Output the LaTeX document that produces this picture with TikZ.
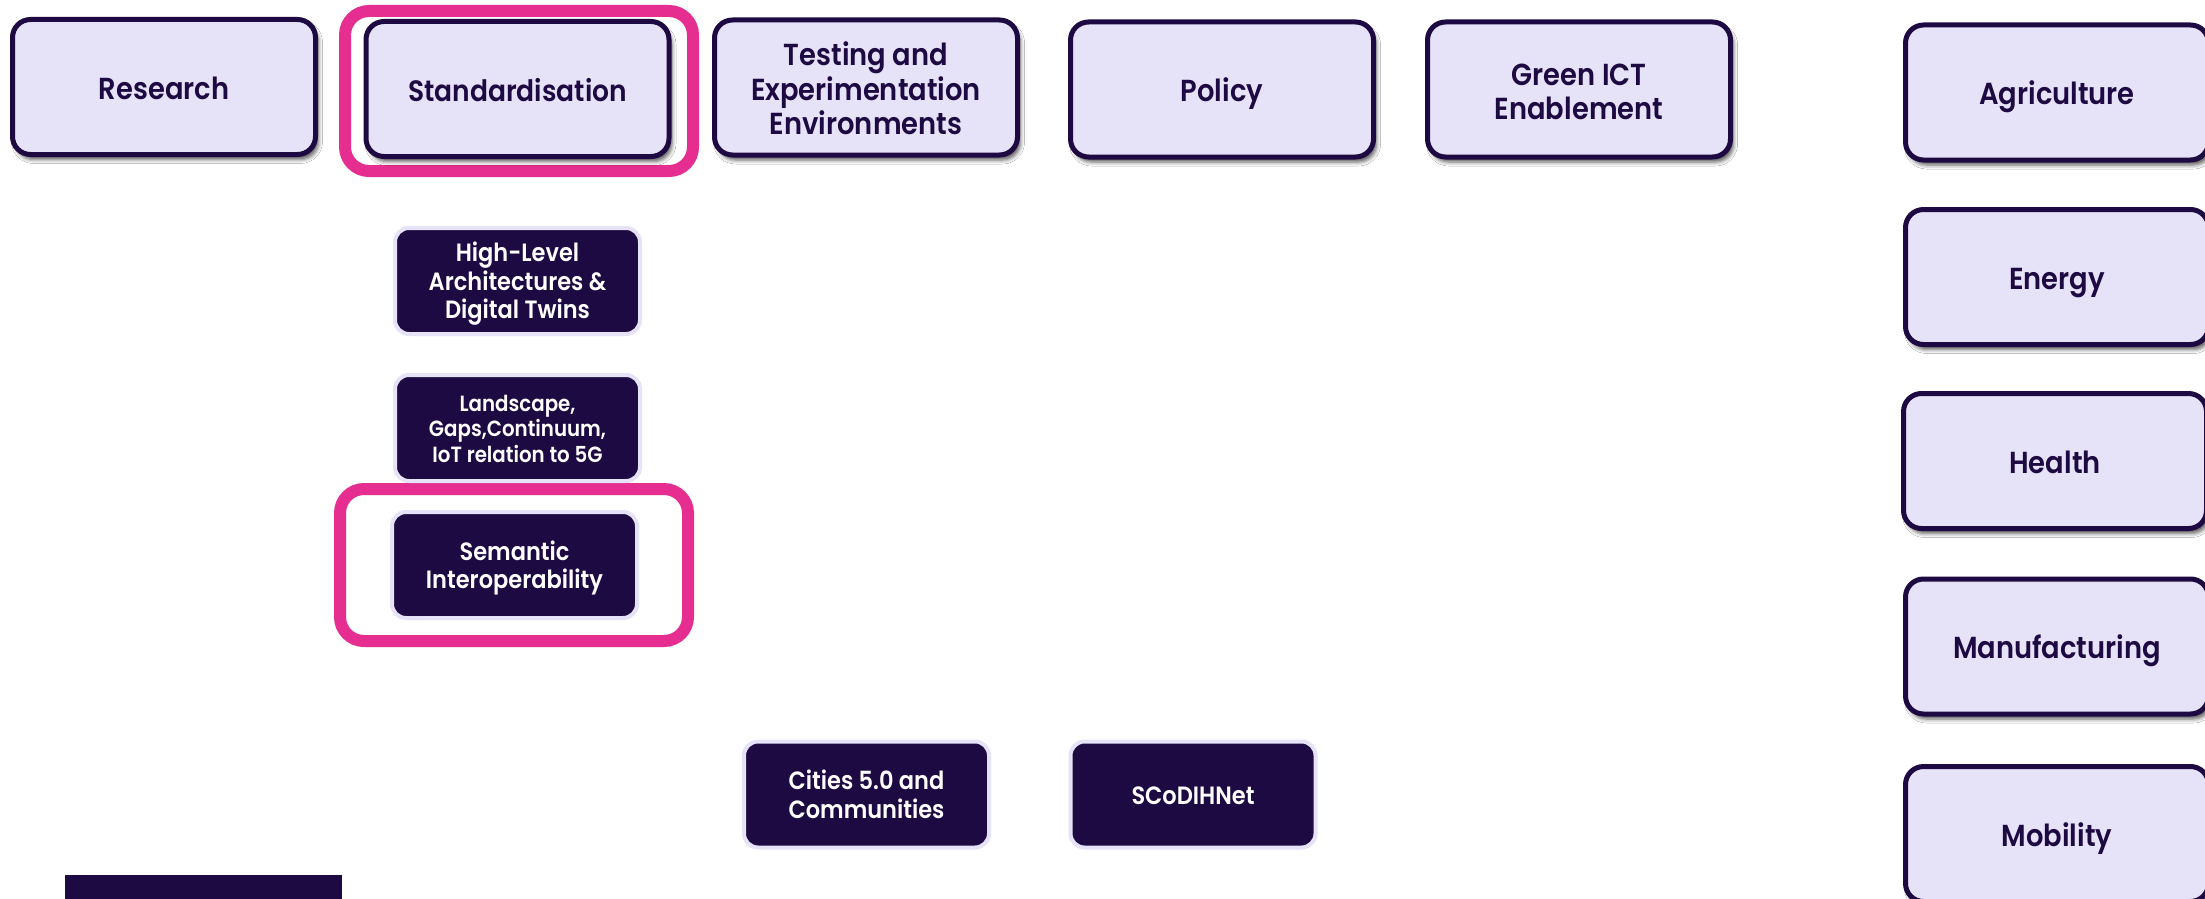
\documentclass[tikz,border=0pt]{standalone}
\usepackage{fontspec}
\setmainfont{Poppins}[BoldFont={Poppins SemiBold},FakeStretch=0.9]
\usetikzlibrary{shadows.blur}
\definecolor{ink}{HTML}{1E0A42}
\definecolor{lav}{HTML}{E6E2F7}
\definecolor{hot}{HTML}{E52E90}
\newcommand{\linestrut}{\rule[-0.3em]{0pt}{1.42em}}
\newcommand{\stacked}[1]{\raisebox{-0.4em}[0pt][0pt]{\begin{tabular}{@{}c@{}}#1\end{tabular}}}
\tikzset{
  topbox/.style={draw=ink,fill=lav,line width=5pt,rounded corners=18pt,minimum width=303pt,minimum height=135pt,align=center,text=ink,inner sep=0pt,
    font=\fontsize{30.4}{34.5}\selectfont\bfseries,
    blur shadow={shadow xshift=3pt,shadow yshift=-5pt,shadow blur radius=4pt,shadow opacity=65}},
  darkbox/.style={draw=lav,fill=ink,line width=4pt,rounded corners=14pt,minimum width=245pt,minimum height=106pt,align=center,text=white,inner sep=0pt,
    font=\fontsize{25}{28.5}\selectfont\bfseries},
  single/.style={execute at begin node=\linestrut,execute at end node=\linestrut},
  frame/.style={draw=hot,line width=12pt,rounded corners=24pt,minimum width=348pt,inner sep=0pt}
}
\begin{document}
\begin{tikzpicture}[x=1pt,y=-1pt]
\useasboundingbox (0,0) rectangle (2205,899);
\fill[white] (0,0) rectangle (2205,899);
\node[frame,minimum height=160pt] (f1) at (519,91) {};
\node[frame,minimum height=152pt] (f2) at (514,565) {};
\node[topbox,single] (res) at (164,87) {Research};
\node[topbox,single,font=\fontsize{29.5}{34.5}\selectfont\bfseries] (std) at (517.5,89) {Standardisation};
\node[topbox] (tst) at (866,87.5) {\stacked{Testing and\\Experimentation\\Environments}};
\node[topbox,single] (pol) at (1222,89.5) {Policy};
\node[topbox] (grn) at (1579,89.5) {\stacked{Green ICT\\Enablement}};
\node[topbox,single] (agr) at (2057,92.5) {Agriculture};
\node[topbox,single] (ene) at (2057,277) {Energy};
\node[topbox,single] (hea) at (2055,461) {Health};
\node[topbox,single] (man) at (2057,646.5) {Manufacturing};
\node[topbox,single] (mob) at (2057,834) {Mobility};
\node[darkbox] (hla) at (517.5,281) {\stacked{High-Level\\Architectures \&\\Digital Twins}};
\node[darkbox,font=\fontsize{22}{25.5}\selectfont\bfseries] (lan) at (517.5,428) {\stacked{Landscape,\\Gaps,Continuum,\\IoT relation to 5G}};
\node[darkbox] (sem) at (514.5,565) {\stacked{Semantic\\Interoperability}};
\node[darkbox] (cit) at (866.5,794.5) {\stacked{Cities 5.0 and\\Communities}};
\node[darkbox,single] (sco) at (1193,794.5) {SCoDIHNet};
\node[fill=ink,minimum width=277pt,minimum height=48pt,inner sep=0pt] (bar) at (203.5,899) {};
\end{tikzpicture}
\end{document}
